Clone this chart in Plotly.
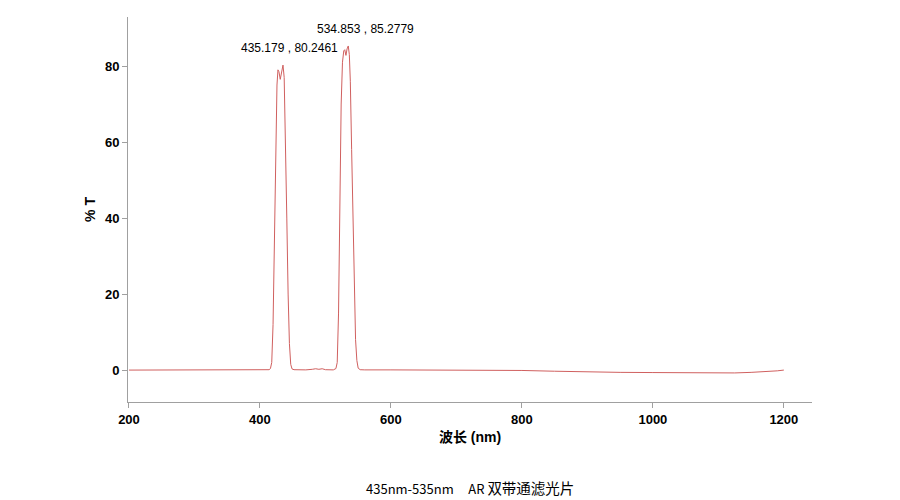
import plotly.graph_objects as go

wavelength = [200, 250, 300, 350, 400, 410, 414, 416, 418, 420, 422, 424, 426, 427.5, 429, 431, 433, 435.179,
              437, 439, 441, 443, 445, 447, 449, 452, 460, 470, 480, 485, 490, 495, 500, 505, 512, 516, 518,
              520, 522, 524, 526, 528, 529.5, 531.3, 533, 534.853, 536.5, 538, 540, 542, 544, 546, 548, 550,
              553, 560, 600, 700, 780, 800, 850, 900, 950, 1000, 1050, 1100, 1125, 1150, 1175, 1190, 1200]
transmission = [0.0, 0.0, 0.0, 0.0, 0.0, 0.05, 0.1, 0.4, 2, 12, 35, 62, 75, 79, 78.5, 76.5, 78.5, 80.2461,
                77, 62, 40, 20, 7, 1.5, 0.3, 0.1, 0.05, 0.05, 0.2, 0.35, 0.2, 0.35, 0.1, 0.05, 0.05, 0.4, 2,
                15, 45, 70, 81, 84, 84.3, 82.8, 84.5, 85.2779, 83, 76, 58, 38, 20, 8, 2.5, 0.5,
                0.1, 0.05, 0.05, 0.0, 0.0, -0.1, -0.3, -0.5, -0.6, -0.65, -0.7, -0.75, -0.75, -0.6, -0.4, -0.2, 0.0]

peak_labels = ["435.179 , 80.2461", "534.853 , 85.2779"]
peak_x = [435.179, 534.853]
peak_y = [80.2461, 85.2779]

x_ticks = [200, 400, 600, 800, 1000, 1200]
y_ticks = [0, 20, 40, 60, 80]

fig = go.Figure()
fig.add_trace(go.Scatter(x=wavelength, y=transmission, mode="lines",
                         line=dict(color="#d0605f", width=1), showlegend=False, hoverinfo="skip"))

shifts = [(7, 8), (17, 8)]
for lbl, px, py, (xs, ys) in zip(peak_labels, peak_x, peak_y, shifts):
    fig.add_annotation(x=px, y=py, text=lbl, showarrow=False, xanchor="center", yanchor="bottom",
                       xshift=xs, yshift=ys, font=dict(family="Arial, Liberation Sans", size=12, color="#000"))

fig.add_annotation(xref="paper", yref="paper", x=(470 - 128) / 684, y=-85 / 385, yanchor="middle",
                   xanchor="center", showarrow=False,
                   text="435nm-535nm &nbsp;&nbsp;&nbsp; AR <span style='font-size:14.5px'>双带通滤光片</span>",
                   font=dict(family="Noto Sans CJK SC, Noto Sans", size=13, color="#000"))

axis_common = dict(showgrid=False, zeroline=False, showline=True, linecolor="#a0a0a0", linewidth=1,
                   ticks="outside", ticklen=5, tickcolor="#a0a0a0",
                   tickfont=dict(family="Arial, Liberation Sans", size=13, color="#000", weight="bold"))

# the page body adds an 8px offset; compensate so the plot area lands where the reference has it
fig.update_layout(
    width=892, height=492,
    margin=dict(l=120, r=88, t=9, b=98),
    plot_bgcolor="white", paper_bgcolor="white",
    xaxis=dict(range=[198.5, 1243], tickvals=x_ticks,
               title=dict(text="波长 (nm)", standoff=6,
                          font=dict(family="Arial, Noto Sans CJK SC", size=14, color="#000", weight="bold")),
               **axis_common),
    yaxis=dict(range=[-8.4, 92.9], tickvals=y_ticks,
               title=dict(text="% T", standoff=6,
                          font=dict(family="Arial, Liberation Sans", size=14, color="#000", weight="bold")),
               **axis_common),
)

fig.write_html("out.html")
